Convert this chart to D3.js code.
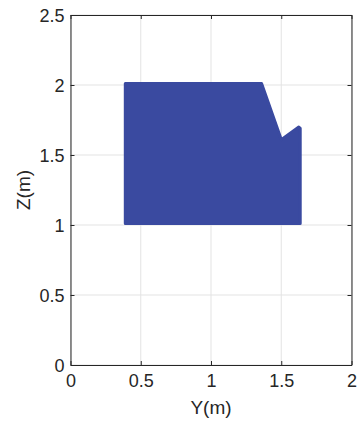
<!DOCTYPE html>
<html>
<head>
<meta charset="utf-8">
<script src="https://cdn.jsdelivr.net/npm/d3@7"></script>
<style>
  html, body { margin: 0; padding: 0; background: #fff; }
  svg { display: block; }
  text { font-family: "Liberation Sans", Arial, Helvetica, sans-serif; fill: #262626; }
</style>
</head>
<body>
<svg id="chart" width="362" height="421"></svg>
<script>
// Cross-section outline in the Y-Z plane (metres)
const sectionY = [0.39, 0.39, 1.36, 1.50, 1.625, 1.635, 1.635];
const sectionZ = [1.01, 2.01, 2.01, 1.61, 1.70, 1.69, 1.01];

const xTicks = [0, 0.5, 1, 1.5, 2];
const yTicks = [0, 0.5, 1, 1.5, 2, 2.5];
const xTickLabels = ["0", "0.5", "1", "1.5", "2"];
const yTickLabels = ["0", "0.5", "1", "1.5", "2", "2.5"];

const svg = d3.select("#chart");
const plotL = 70.5, plotR = 351.5, plotT = 15, plotB = 365;

const x = d3.scaleLinear().domain([0, 2]).range([plotL, plotR]);
const y = d3.scaleLinear().domain([0, 2.5]).range([plotB, plotT]);

const axisColor = "#262626";
const gridColor = "#e3e3e3";

// grid
const grid = svg.append("g");
grid.selectAll(".gx").data(xTicks).join("line")
  .attr("x1", d => x(d)).attr("x2", d => x(d))
  .attr("y1", plotT).attr("y2", plotB)
  .attr("stroke", gridColor).attr("stroke-width", 1);
grid.selectAll(".gy").data(yTicks).join("line")
  .attr("y1", d => y(d)).attr("y2", d => y(d))
  .attr("x1", plotL).attr("x2", plotR)
  .attr("stroke", gridColor).attr("stroke-width", 1);

// filled section
const pts = sectionY.map((v, i) => [x(v), y(sectionZ[i])]);
svg.append("path")
  .attr("d", d3.line()(pts) + "Z")
  .attr("fill", "#3a4aa0")
  .attr("stroke", "#3a4aa0")
  .attr("stroke-width", 3)
  .attr("stroke-linejoin", "round");

// axes (ticks point inward, box on all sides)
const tickLen = 4;
const bottomAxis = d3.axisBottom(x).tickValues(xTicks).tickFormat((d, i) => xTickLabels[i])
  .tickSizeInner(-tickLen).tickSizeOuter(0).tickPadding(10);
const leftAxis = d3.axisLeft(y).tickValues(yTicks).tickFormat((d, i) => yTickLabels[i])
  .tickSizeInner(-tickLen).tickSizeOuter(0).tickPadding(10);
const topAxis = d3.axisTop(x).tickValues(xTicks).tickFormat("").tickSizeInner(-tickLen).tickSizeOuter(0);
const rightAxis = d3.axisRight(y).tickValues(yTicks).tickFormat("").tickSizeInner(-tickLen).tickSizeOuter(0);

function styleAxis(g) {
  g.select(".domain").attr("stroke", axisColor).attr("stroke-width", 1);
  g.selectAll(".tick line").attr("stroke", axisColor).attr("stroke-width", 1);
  g.selectAll(".tick text").attr("fill", axisColor)
    .style("font-family", '"Liberation Sans", Arial, sans-serif')
    .style("font-size", "18px");
}

svg.append("g").attr("transform", `translate(0,${plotB})`).call(bottomAxis).call(styleAxis)
  .selectAll(".tick text").attr("y", 8).attr("dy", "0.75em");
svg.append("g").attr("transform", `translate(${plotL},0)`).call(leftAxis).call(styleAxis)
  .selectAll(".tick text").attr("x", -6).attr("dy", "0.35em");
svg.append("g").attr("transform", `translate(0,${plotT})`).call(topAxis).call(styleAxis);
svg.append("g").attr("transform", `translate(${plotR},0)`).call(rightAxis).call(styleAxis);

// axis titles
svg.append("text")
  .attr("x", (plotL + plotR) / 2).attr("y", 414)
  .attr("text-anchor", "middle")
  .style("font-size", "19px")
  .text("Y(m)");
svg.append("text")
  .attr("transform", `translate(30,${(plotT + plotB) / 2}) rotate(-90)`)
  .attr("text-anchor", "middle")
  .style("font-size", "19px")
  .text("Z(m)");
</script>
</body>
</html>
